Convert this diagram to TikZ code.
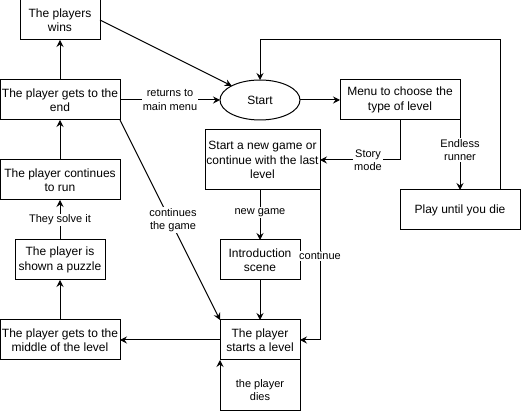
\documentclass[tikz,border=0pt]{standalone}
\usepackage{fontspec}
\setmainfont{Liberation Sans}
\usetikzlibrary{arrows.meta,shapes.geometric}
\begin{document}
\begin{tikzpicture}[x=1pt,y=-1pt,
  every node/.style={inner sep=0pt, outer sep=0pt},
  box/.style={draw, line width=1pt, minimum height=40pt, align=center,
    font=\fontsize{12}{14.5}\selectfont},
  oval/.style={draw, ellipse, line width=1pt, minimum width=80pt, minimum height=40pt,
    font=\fontsize{12}{14.5}\selectfont},
  conn/.style={line width=1pt, -{Stealth[length=7pt,width=7pt,inset=2.5pt]}},
  lab/.style={fill=white, inner sep=1pt, align=center, font=\fontsize{11}{13.5}\selectfont}
]
\useasboundingbox (0,0) rectangle (522,419);

\node[box, minimum width=80pt] (wins) at (60,20) {The players\\wins};
\node[box, minimum width=120pt] (end) at (60,100) {The player gets to the\\end};
\node[oval] (start) at (260,100) {Start};
\node[box, minimum width=120pt] (menu) at (400,100) {Menu to choose the\\type of level};
\node[box, minimum width=115pt, minimum height=60pt] (newg) at (262.5,160) {Start a new game or\\continue with the last\\level};
\node[box, minimum width=120pt] (play) at (460,210) {Play until you die};
\node[box, minimum width=80pt] (intro) at (260,260) {Introduction\\scene};
\node[box, minimum width=80pt] (lvl) at (260,340) {The player\\starts a level};
\node[box, minimum width=120pt] (mid) at (60,340) {The player gets to the\\middle of the level};
\node[box, minimum width=90pt] (puzzle) at (60,260) {The player is\\shown a puzzle};
\node[box, minimum width=120pt] (run) at (60,180) {The player continues\\to run};

\draw[conn] (end) -- (wins);
\draw[conn] (wins.east) -- (start);
\draw[conn] (end) -- node[lab] {returns to\\main menu} (start);
\draw[conn] (start) -- (menu);
\draw[conn] (menu.south) |- node[lab, pos=0.7] {Story\\mode} (newg.east);
\draw[conn] (menu.south east) -- node[lab, pos=0.43] {Endless\\runner} (play.north);
\draw[conn] ([xshift=-20pt]play.north east) -- ++(0,-150) -| (start.north);
\draw[conn] (intro.north |- newg.south) -- node[lab, pos=0.45] {new game} (intro.north);
\draw[conn] (newg.south east) |- node[lab, pos=0.22] {continue} (lvl.east);
\draw[conn] (intro) -- (lvl);
\draw[conn] (lvl) -- (mid);
\draw[conn] (mid) -- (puzzle);
\draw[conn] (puzzle) -- node[lab] {They solve it} (run);
\draw[conn] (run) -- (end);
\draw[conn] (end.south east) -- node[lab, pos=0.5, xshift=3pt] {continues\\the game} (lvl.north west);
\draw[conn] (lvl.south east) -- ++(0,50) -| (lvl.south west);
\node[lab, fill=none] (dies) at ([yshift=-30pt]lvl.south) {the player\\dies};
\end{tikzpicture}
\end{document}
